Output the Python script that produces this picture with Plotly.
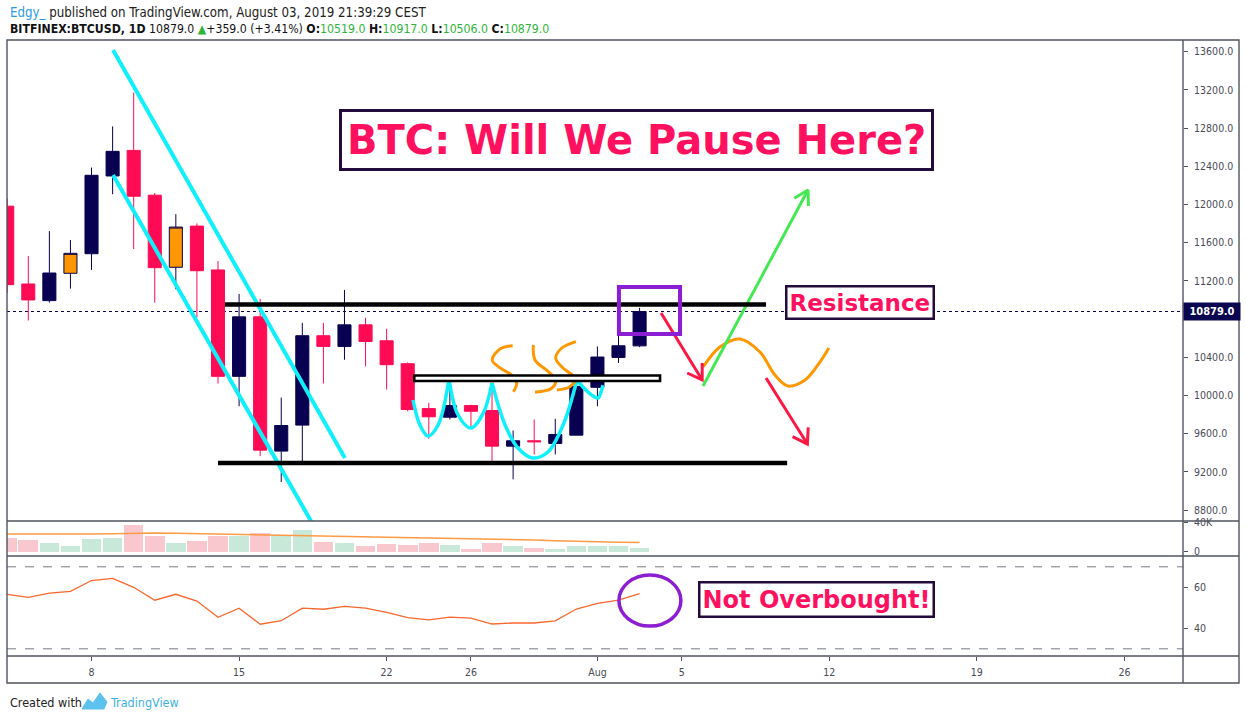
import pandas as pd
import plotly.graph_objects as go

# ---------------- data ----------------
dates = pd.date_range("2019-07-04", "2019-08-03", freq="D")
open_ = [11982, 11167, 10993, 11279, 11484, 12298, 12566, 12097, 11342, 11773, 11314,
         10200, 10823, 9417, 9689, 10625, 10513, 10739, 10572, 10332, 9862, 9772,
         9894, 9842, 9469, 9525, 9497, 9584, 10085, 10398, 10519]
high = [12062, 11460, 11721, 11627, 12386, 12817, 13172, 12120, 11898, 11801, 11408,
        11063, 11011, 9977, 10760, 10760, 11105, 10813, 10698, 10345, 9922, 10183,
        9901, 10200, 9633, 9748, 9755, 10131, 10513, 10670, 10917]
low = [11074, 10784, 10972, 11118, 11314, 12107, 11533, 10972, 11112, 10816, 10124,
       9887, 9364, 9093, 9278, 10124, 10374, 10304, 10061, 9834, 9546, 9748,
       9654, 9302, 9121, 9382, 9382, 9584, 9887, 10340, 10506]
close = [11160, 11000, 11282, 11488, 12305, 12556, 12086, 11338, 11763, 11306, 10200,
         10823, 9427, 9685, 10625, 10513, 10739, 10565, 10322, 9852, 9776, 9894,
         9834, 9469, 9525, 9515, 9591, 10095, 10402, 10520, 10879]
orange_days = ["2019-07-07", "2019-07-12"]

volume = [18400, 15500, 11100, 6800, 16900, 18400, 35800, 21300, 11100, 14000, 21300,
          21300, 25700, 22700, 28600, 12600, 11100, 6800, 9700, 8200, 11100, 8200,
          3900, 11100, 6800, 5300, 3900, 6800, 6800, 6800, 5300]
vol_ma = [23700, 23700, 23200, 22700, 23700, 24200, 25200, 25200, 24700, 24200, 23700,
          23200, 22300, 21300, 21300, 20800, 20300, 19800, 19400, 18900, 18400, 17900,
          17400, 16900, 16500, 15500, 14500, 13600, 13100, 12600, 12100]
rsi = [56.6, 55.1, 57.2, 58.0, 63.3, 64.4, 60.0, 53.7, 56.6, 53.3, 45.4, 49.8, 42.0,
       43.7, 49.8, 49.3, 50.7, 49.9, 47.8, 45.2, 44.1, 45.5, 45.0, 42.1, 42.6, 42.6,
       43.6, 49.4, 52.2, 53.8, 56.9]

x_tick_dates = ["2019-07-08", "2019-07-15", "2019-07-22", "2019-07-26", "2019-08-01",
                "2019-08-05", "2019-08-12", "2019-08-19", "2019-08-26"]
x_tick_labels = ["8", "15", "22", "26", "Aug", "5", "12", "19", "26"]
price_ticks = [8800, 9200, 9600, 10000, 10400, 10800, 11200, 11600, 12000, 12400,
               12800, 13200, 13600]
vol_ticks = [0, 40000]
vol_tick_labels = ["0", "40K"]
rsi_ticks = [40, 60]
last_price = 10879.0

# ---------------- styles ----------------
NAVY = "#080050"
RED = "#ff0a54"
ORANGE = "#ff9800"
RED_L = "#f9c8cf"
GRN_L = "#c8e8d9"
PINK = "#ff1160"
BOXC = "#230b3d"
CYAN = "#10f0fa"
PURPLE = "#8b1ed2"
ARROW_RED = "#ff1744"
ARROW_GRN = "#44e853"
FRAME = "#50535e"
SANS = "DejaVu Sans Condensed, Liberation Sans, Arial, sans-serif"
TICKF = dict(family=SANS, size=10.5, color="#4a4a55")

BASE = pd.Timestamp("2019-07-04")


def day(d):
    return BASE + pd.Timedelta(days=d)


# drawings, as (day offset from Jul 4, price)
upper_channel = [(5.02, 13618), (16.02, 9345)]
lower_channel = [(5.02, 12309), (14.45, 8670)]
resistance_line = [(10.33, 10952), (36.0, 10952)]
support_line = [(10.0, 9292), (37.0, 9292)]
neck_rect = (19.31, 10151, 30.97, 10209)
purple_rect = (29.02, 10643, 31.92, 11136)
w_arches = [
    [(19.25, 9952), (19.58, 9690), (19.96, 9575), (20.44, 9690), (20.96, 10172)],
    [(20.96, 10172), (21.39, 9795), (22.0, 9659), (22.57, 9806), (23.0, 10130)],
    [(23.0, 10130), (23.62, 9690), (24.23, 9450), (24.94, 9345), (25.65, 9408),
     (26.37, 9690), (27.03, 10162)],
    [(27.03, 10162), (27.55, 10036), (28.03, 9973), (28.17, 10036), (28.26, 10109)],
]
s_curves = [
    [(23.98, 10521), (23.38, 10487), (23.01, 10371), (23.38, 10288), (23.93, 10214),
     (24.17, 10127), (24.01, 10039)],
    [(24.96, 10528), (25.04, 10371), (25.67, 10249), (26.02, 10162), (25.83, 10075),
     (25.04, 10033)],
    [(26.98, 10563), (26.30, 10494), (26.02, 10389), (26.38, 10284), (26.94, 10180),
     (26.70, 10092), (26.08, 10057)],
]
wave = [(33.01, 10298), (33.81, 10507), (34.76, 10591), (35.71, 10455), (36.42, 10214),
        (37.04, 10099), (37.85, 10162), (38.46, 10319), (38.98, 10497)]
arrows = [
    (ARROW_RED, [(31.02, 10863), (32.97, 10162)], [(32.26, 10235), (32.97, 10162), (32.97, 10340)]),
    (ARROW_RED, [(36.0, 10183), (37.96, 9491)], [(37.26, 9568), (37.96, 9491), (38.0, 9666)]),
    (ARROW_GRN, [(33.01, 10099), (37.99, 12152)], [(37.34, 12064), (37.99, 12152), (38.01, 11984)]),
]

fig = go.Figure()

# ---------------- candles ----------------
is_orange = [d.strftime("%Y-%m-%d") in orange_days for d in dates]
mi = [i for i in range(len(dates)) if not is_orange[i]]
oi = [i for i in range(len(dates)) if is_orange[i]]

fig.add_trace(go.Candlestick(
    x=[dates[i] for i in mi], open=[open_[i] for i in mi], high=[high[i] for i in mi],
    low=[low[i] for i in mi], close=[close[i] for i in mi],
    increasing=dict(line=dict(color=NAVY, width=1), fillcolor=NAVY),
    decreasing=dict(line=dict(color=RED, width=1), fillcolor=RED),
    whiskerwidth=0, hoverinfo="skip", xaxis="x", yaxis="y"))
fig.add_trace(go.Candlestick(
    x=[dates[i] for i in oi], open=[open_[i] for i in oi], high=[high[i] for i in oi],
    low=[low[i] for i in oi], close=[close[i] for i in oi],
    increasing=dict(line=dict(color=NAVY, width=1), fillcolor=ORANGE),
    decreasing=dict(line=dict(color=NAVY, width=1), fillcolor=ORANGE),
    whiskerwidth=0, hoverinfo="skip", xaxis="x", yaxis="y"))


def line_trace(pts, color, width, shape="linear", yaxis="y"):
    return go.Scatter(x=[day(p[0]) for p in pts], y=[p[1] for p in pts], mode="lines",
                      line=dict(color=color, width=width, shape=shape),
                      hoverinfo="skip", xaxis="x", yaxis=yaxis)


fig.add_trace(line_trace(upper_channel, CYAN, 4))
fig.add_trace(line_trace(lower_channel, CYAN, 4))
for arch in w_arches:
    fig.add_trace(line_trace(arch, CYAN, 3.5, "spline"))
for s in s_curves:
    fig.add_trace(line_trace(s, ORANGE, 3, "spline"))
fig.add_trace(line_trace(wave, ORANGE, 3, "spline"))
for color, shaft, head in arrows:
    fig.add_trace(line_trace(shaft, color, 3))
    fig.add_trace(line_trace(head, color, 3))

# ---------------- volume ----------------
vcolors = [RED_L if c < o else GRN_L for o, c in zip(open_, close)]
fig.add_trace(go.Bar(x=dates, y=volume, marker=dict(color=vcolors, line=dict(width=0)),
                     width=0.93 * 86400000, hoverinfo="skip", xaxis="x", yaxis="y2"))
fig.add_trace(go.Scatter(x=dates, y=vol_ma, mode="lines", line=dict(color="#ff9a45", width=1.5),
                         hoverinfo="skip", xaxis="x", yaxis="y2"))

# ---------------- RSI ----------------
fig.add_trace(go.Scatter(x=dates, y=rsi, mode="lines", line=dict(color="#f7672d", width=1.3),
                         hoverinfo="skip", xaxis="x", yaxis="y3"))

# ---------------- shapes ----------------
shapes = []
for pts in (resistance_line, support_line):
    shapes.append(dict(type="line", xref="x", yref="y", x0=day(pts[0][0]), x1=day(pts[1][0]),
                       y0=pts[0][1], y1=pts[1][1], line=dict(color="black", width=4.5)))
shapes.append(dict(type="rect", xref="x", yref="y", x0=day(neck_rect[0]), x1=day(neck_rect[2]),
                   y0=neck_rect[1], y1=neck_rect[3], line=dict(color="black", width=2.6),
                   fillcolor="white"))
shapes.append(dict(type="rect", xref="x", yref="y", x0=day(purple_rect[0]), x1=day(purple_rect[2]),
                   y0=purple_rect[1], y1=purple_rect[3], line=dict(color=PURPLE, width=4)))
shapes.append(dict(type="line", xref="paper", yref="y", x0=0, x1=1, y0=last_price, y1=last_price,
                   line=dict(color=NAVY, width=1, dash="dot"), layer="below"))
for lvl in (70, 30):
    shapes.append(dict(type="line", xref="paper", yref="y3", x0=0, x1=1, y0=lvl, y1=lvl,
                       line=dict(color="#787b86", width=1, dash="dash")))
shapes.append(dict(type="circle", xref="x", yref="y3", x0=day(29.02), x1=day(31.96),
                   y0=41.1, y1=66.0, line=dict(color=PURPLE, width=3.5)))
XR = (1239 - 7) / 1176
YB = (656 - 683) / 616
shapes.append(dict(type="rect", xref="paper", yref="paper", x0=0, x1=XR, y0=YB, y1=1,
                   line=dict(color=FRAME, width=1.4)))
for yy in ((656 - 521) / 616, (656 - 556) / 616, 0):
    shapes.append(dict(type="line", xref="paper", yref="paper", x0=0, x1=XR, y0=yy, y1=yy,
                       line=dict(color=FRAME, width=1.4)))
shapes.append(dict(type="line", xref="paper", yref="paper", x0=1, x1=1, y0=YB, y1=1,
                   line=dict(color=FRAME, width=1.4)))


def pp(x, y):
    return (x - 7) / 1176, (656 - y) / 616


logo = [(82, 709), (88, 699), (93, 703), (100, 693), (107, 702), (104, 709)]
path = "M " + " L ".join("%.5f,%.5f" % pp(*p) for p in logo) + " Z"
shapes.append(dict(type="path", xref="paper", yref="paper", path=path,
                   fillcolor="#5cc1ec", line=dict(color="#5cc1ec", width=1)))

# ---------------- annotations ----------------
ann = []
ann.append(dict(x=day(29.83), y=12675, xref="x", yref="y", showarrow=False,
                text="<b>BTC: Will We Pause Here?</b>",
                font=dict(family="DejaVu Sans", size=40, color=PINK),
                bgcolor="white", bordercolor=BOXC, borderwidth=3, borderpad=5))
ann.append(dict(x=day(40.46), y=10973, xref="x", yref="y", showarrow=False,
                text="<b>Resistance</b>",
                font=dict(family="DejaVu Sans", size=23, color=PINK),
                bgcolor="white", bordercolor=BOXC, borderwidth=2.5, borderpad=2))
ann.append(dict(x=day(38.37), y=54.3, xref="x", yref="y3", showarrow=False,
                text="<b>Not Overbought!</b>",
                font=dict(family="DejaVu Sans", size=24, color=PINK),
                bgcolor="white", bordercolor=BOXC, borderwidth=2.5, borderpad=2))
ann.append(dict(x=1.0, y=last_price, xref="paper", yref="y", xanchor="left", yanchor="middle",
                showarrow=False, text="<b>%.1f</b>" % last_price,
                font=dict(family=SANS, size=11, color="white"),
                bgcolor="#0b0650", borderpad=2, width=52))
hx, hy1 = pp(8, 12)
_, hy2 = pp(8, 29)
G = "#2fb53a"
ann.append(dict(x=hx, y=hy1, xref="paper", yref="paper", xanchor="left", yanchor="middle",
                showarrow=False,
                text="<span style='color:#2e9be6'>Edgy_</span> published on TradingView.com, "
                     "August 03, 2019 21:39:29 CEST",
                font=dict(family=SANS, size=13.2, color="#222222")))
ann.append(dict(x=hx, y=hy2, xref="paper", yref="paper", xanchor="left", yanchor="middle",
                showarrow=False,
                text="<b>BITFINEX:BTCUSD, 1D</b> 10879.0 <span style='color:%s'>▲</span>"
                     "+359.0 (+3.41%%) <b>O:</b><span style='color:%s'>10519.0</span> "
                     "<b>H:</b><span style='color:%s'>10917.0</span> "
                     "<b>L:</b><span style='color:%s'>10506.0</span> "
                     "<b>C:</b><span style='color:%s'>10879.0</span>" % (G, G, G, G, G),
                font=dict(family=SANS, size=12.2, color="#111111")))
fx, fy = pp(8, 702)
ann.append(dict(x=fx, y=fy, xref="paper", yref="paper", xanchor="left", yanchor="middle",
                showarrow=False, text="Created with",
                font=dict(family=SANS, size=12.5, color="#222222")))
fx2, _ = pp(108, 702)
ann.append(dict(x=fx2, y=fy, xref="paper", yref="paper", xanchor="left", yanchor="middle",
                showarrow=False, text="TradingView",
                font=dict(family=SANS, size=12.5, color="#3fb0e3")))

# ---------------- layout ----------------
d_price = [(656 - 521) / 616, 1]
d_vol = [(656 - 556) / 616, (656 - 521) / 616]
d_rsi = [0, (656 - 556) / 616]

yaxis_common = dict(side="right", showgrid=False, zeroline=False, showline=False,
                    ticks="outside", ticklen=4, tickcolor=FRAME, tickfont=TICKF,
                    ticklabelstandoff=4, fixedrange=True)

price_labels = ["" if v == 10800 else "%.1f" % v for v in price_ticks]

fig.update_layout(
    width=1246, height=720,
    margin=dict(l=7, r=63, t=40, b=64),
    paper_bgcolor="white", plot_bgcolor="white",
    showlegend=False, boxgap=0.38, boxgroupgap=0, bargap=0,
    xaxis=dict(type="date", range=[day(-0.01), day(55.78)], anchor="y3",
               rangeslider=dict(visible=False), showgrid=False, zeroline=False,
               showline=False, ticks="outside", ticklen=4, tickcolor=FRAME,
               tickvals=x_tick_dates, ticktext=x_tick_labels, tickfont=TICKF,
               ticklabelstandoff=2),
    yaxis=dict(domain=d_price, range=[8685, 13722], anchor="x",
               tickvals=price_ticks, ticktext=price_labels, **yaxis_common),
    yaxis2=dict(domain=d_vol, range=[-6100, 41356], anchor="x",
                tickvals=vol_ticks, ticktext=vol_tick_labels, **yaxis_common),
    yaxis3=dict(domain=d_rsi, range=[26.5, 75.27], anchor="x",
                tickvals=rsi_ticks, ticktext=[str(v) for v in rsi_ticks], **yaxis_common),
    shapes=shapes, annotations=ann,
)

fig.write_html("out.html", config={"displayModeBar": False},
               post_script="document.body.style.margin='0';")
